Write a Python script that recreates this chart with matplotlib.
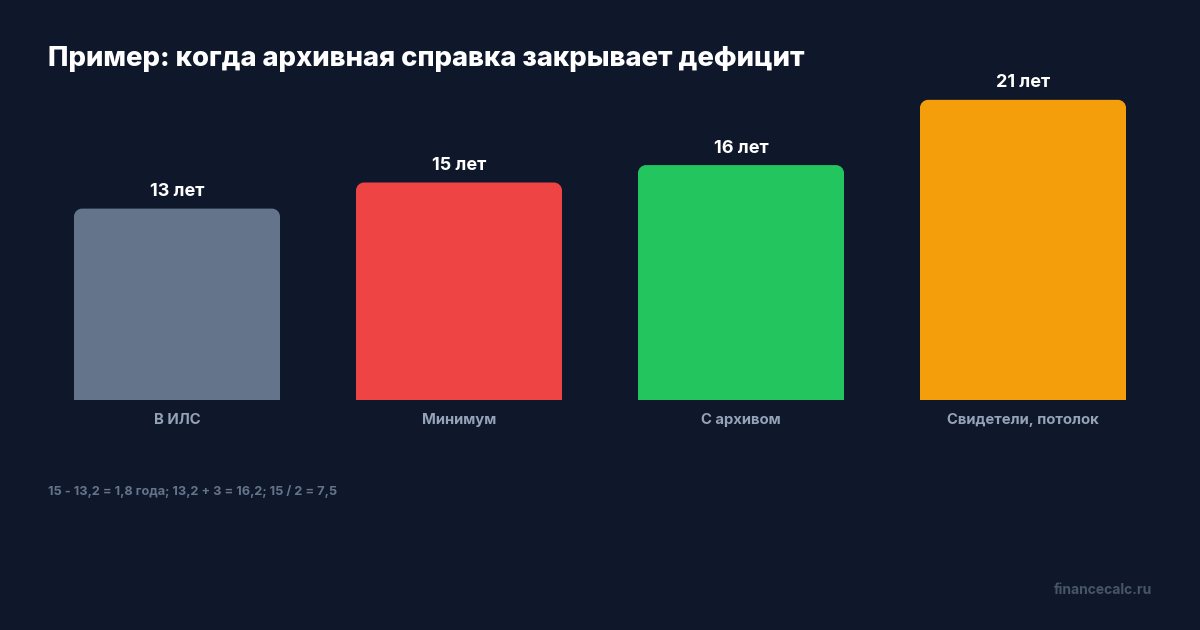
import matplotlib
matplotlib.use("Agg")
import matplotlib.pyplot as plt
from matplotlib.path import Path
from matplotlib.patches import PathPatch

plt.rcParams['font.family'] = ['Inter', 'DejaVu Sans']

# data
categories = ["В ИЛС", "Минимум", "С архивом", "Свидетели, потолок"]
years = [13.2, 15, 16.2, 20.7]
colors = ["#64748b", "#ef4444", "#22c55e", "#f59e0b"]
title = "Пример: когда архивная справка закрывает дефицит"
note = "15 - 13,2 = 1,8 года; 13,2 + 3 = 16,2; 15 / 2 = 7,5"
brand = "financecalc.ru"

BG = "#0f172a"
W, H = 1200, 630

fig = plt.figure(figsize=(W / 100, H / 100), dpi=100, facecolor=BG)
ax = fig.add_axes([0, 230 / H, 1, 400 / H])
ax.set_facecolor(BG)
ax.set_xlim(-177 / 282, (W - 177) / 282)
ax.set_ylim(0, 400 / 14.5)
ax.axis("off")

bar_w = 206 / 282
rx, ry = 8 / 282, 8 / 14.5  # corner radius in data units


def rounded_top(x0, x1, top):
    k = 0.45
    verts = [
        (x0, 0), (x1, 0), (x1, top - ry),
        (x1, top - ry * k), (x1 - rx * k, top), (x1 - rx, top),
        (x0 + rx, top),
        (x0 + rx * k, top), (x0, top - ry * k), (x0, top - ry),
        (x0, 0),
    ]
    codes = [Path.MOVETO, Path.LINETO, Path.LINETO,
             Path.CURVE4, Path.CURVE4, Path.CURVE4,
             Path.LINETO,
             Path.CURVE4, Path.CURVE4, Path.CURVE4,
             Path.CLOSEPOLY]
    return Path(verts, codes)


bars = ax.bar(range(len(years)), years, width=bar_w, color=colors)
for b, c in zip(bars, colors):
    b.set_visible(False)
    ax.add_patch(PathPatch(rounded_top(b.get_x(), b.get_x() + b.get_width(), b.get_height()),
                           facecolor=c, edgecolor="none"))

for i, (v, cat) in enumerate(zip(years, categories)):
    ax.annotate(f"{round(v)} лет", (i, v), xytext=(0, 17), textcoords="offset pixels",
                ha="center", va="center", color="white", fontsize=13, fontweight="bold")
    ax.annotate(cat, (i, 0), xytext=(0, -20), textcoords="offset pixels",
                ha="center", va="center", color="#94a3b8", fontsize=10.7, fontweight="bold")

fig.text(48 / W, 1 - 59 / H, title, ha="left", va="center", color="white",
         fontsize=19.75, fontweight="heavy")
fig.text(48 / W, 1 - 491 / H, note, ha="left", va="center", color="#64748b",
         fontsize=9.2, fontweight="bold")
fig.text(1152 / W, 1 - 590 / H, brand, ha="right", va="center", color="#475569",
         fontsize=10, fontweight="bold")

fig.savefig("out.png", dpi=100, facecolor=BG)
